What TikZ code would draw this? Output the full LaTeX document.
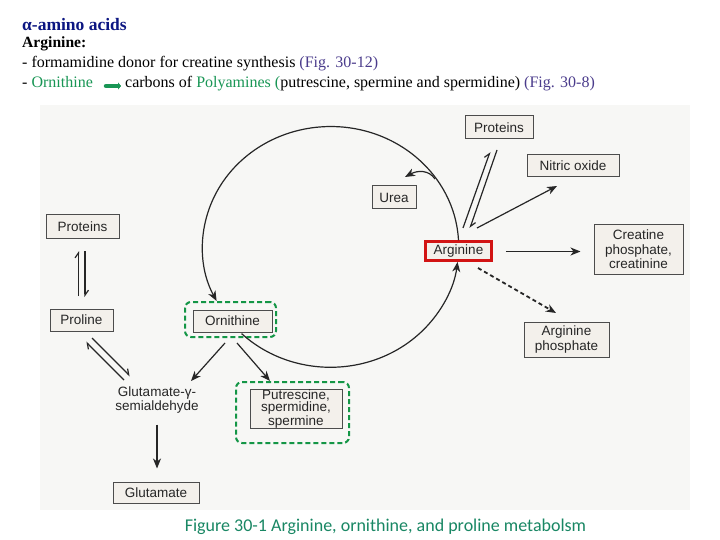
\documentclass[tikz,border=0pt]{standalone}
\usepackage{fontspec}
\setmainfont{Liberation Serif}
\setsansfont{Liberation Sans}
\newfontfamily\capfont{Carlito}
\usetikzlibrary{arrows.meta,calc}
\definecolor{navy}{RGB}{12,22,130}
\definecolor{figblue}{RGB}{75,60,140}
\definecolor{grn}{RGB}{25,150,85}
\definecolor{capgrn}{RGB}{25,135,100}
\definecolor{boxfill}{RGB}{243,240,235}
\definecolor{bg}{RGB}{247,247,245}
\definecolor{redb}{RGB}{210,20,20}
\definecolor{dashg}{RGB}{20,150,70}
\begin{document}
\begin{tikzpicture}[x=1pt,y=-1pt,
  box/.style={draw=black!70, fill=boxfill, line width=1pt,
    font=\sffamily\fontsize{13.5}{14.5}\selectfont, text=black!85,
    inner sep=0pt, align=center},
  hl/.style={draw=dashg, line width=2pt, dash pattern=on 5pt off 3pt,
    rounded corners=6pt, inner sep=0pt},
  arr/.style={line width=1.2pt, draw=black!85,
    -{Stealth[length=10pt,width=8pt,inset=3pt]}},
  harp/.style={line width=1.2pt, draw=black!85,
    -{Straight Barb[harpoon,length=5pt,width=7pt]}},
  hdr/.style={anchor=base west, inner sep=0pt, font=\fontsize{16}{18}\selectfont}
]
\useasboundingbox (0,0) rectangle (720,540);
\fill[white] (0,0) rectangle (720,540);
\fill[bg] (40,105) rectangle (690,510);

% header
\node[hdr, font=\bfseries\fontsize{17.5}{20}\selectfont, text=navy] (t1) at (22,30.5) {α-amino acids};
\node[hdr, font=\bfseries\fontsize{15.6}{18}\selectfont] (t2) at (22,48) {Arginine:};
\node[hdr] (t3) at (22,68) {- formamidine donor for creatine synthesis \textcolor{figblue}{(Fig. 30-12)}};
\node[hdr] (t4a) at (22,88) {- \textcolor{grn}{Ornithine}};
\coordinate (ga) at (106,86);
\coordinate (gb) at (121,86);
\draw[grn, line width=4.5pt, line cap=round, -{Triangle[length=3pt,width=7pt]}] (ga) -- (gb);
\node[hdr] (t4b) at (125,88) {carbons of \textcolor{grn}{Polyamines (}putrescine, spermine and spermidine) \textcolor{figblue}{(Fig. 30-8)}};

% boxes
\node[box, minimum width=68, minimum height=23] (protR) at (499,127.5) {Proteins};
\node[box, minimum width=92, minimum height=22] (no) at (573,166) {Nitric oxide};
\node[box, minimum width=44, minimum height=23] (urea) at (394,197.5) {Urea};
\node[box, draw=redb, line width=2.5pt, minimum width=66, minimum height=19] (arg) at (458.5,251) {Arginine};
\node[box, minimum width=89, minimum height=49] (crea) at (638.5,249.5) {Creatine\\phosphate,\\creatinine};
\node[box, minimum width=85, minimum height=35] (argp) at (566.5,339.5) {Arginine\\phosphate};
\node[box, minimum width=73, minimum height=23] (protL) at (82.5,226.5) {Proteins};
\node[box, minimum width=63, minimum height=22] (pro) at (81.5,320) {Proline};
\node[box, minimum width=79, minimum height=22] (orn) at (232.5,321) {Ornithine};
\node[hl, minimum width=91, minimum height=35] (ornd) at (230.5,319.5) {};
\node[font=\sffamily\fontsize{13.5}{14.5}\selectfont, text=black!85, align=center, inner sep=0pt] (gsa) at (157,400) {Glutamate-γ-\\semialdehyde};
\node[box, font=\sffamily\fontsize{13.5}{12.3}\selectfont, minimum width=92, minimum height=39] (put) at (296,409) {Putrescine,\\spermidine,\\spermine};
\node[hl, minimum width=113, minimum height=61] (putd) at (292.5,412.5) {};
\node[box, minimum width=86, minimum height=21] (glu) at (156,492.5) {Glutamate};

% urea cycle
\draw[arr] (arg.north) arc[start angle=-3, end angle=-207, x radius=128, y radius=120];
\coordinate (arcB) at (241.6,333.6);
\draw[arr] (arcB) arc[start angle=134, end angle=7, x radius=128, y radius=120];
\coordinate (ub) at (435,179);
\coordinate (ut) at (405,177);
\draw[arr] (ub) .. controls (429,170) and (418,170) .. (ut);

% arginine connections
\coordinate (pa1) at (463,228); \coordinate (pa2) at (490,152);
\coordinate (pb1) at (497,150); \coordinate (pb2) at (470,228);
\draw[harp] (pa1) -- (pa2);
\draw[harp] (pb1) -- (pb2);
\coordinate (n1) at (477,228); \coordinate (n2) at (557,186);
\draw[arr] (n1) -- (n2);
\draw[arr] ($(arg.east)+(13,0.5)$) -- ($(crea.west)+(-13,2)$);
\coordinate (d1) at (478,268); \coordinate (d2) at (556,313);
\draw[arr, line width=1.8pt, dash pattern=on 4pt off 3pt] (d1) -- (d2);

% left side
\coordinate (la1) at (78.5,296); \coordinate (la2) at (78.5,251);
\coordinate (lb1) at (85,251); \coordinate (lb2) at (85,297);
\draw[harp] (la1) -- (la2);
\draw[harp] (lb1) -- (lb2);
\coordinate (sa1) at (124,380); \coordinate (sa2) at (86,342);
\coordinate (sb1) at (92,338); \coordinate (sb2) at (130,376);
\draw[harp] (sa1) -- (sa2);
\draw[harp] (sb1) -- (sb2);
\coordinate (o1) at (225,343); \coordinate (o2) at (191,381);
\draw[arr] (o1) -- (o2);
\coordinate (o3) at (237,343); \coordinate (o4) at (270,381);
\draw[arr] (o3) -- (o4);
\draw[arr] ($(gsa.south)+(0,11)$) -- ($(glu.north)+(1,-13)$);

% caption
\node[font=\capfont\fontsize{18}{20}\selectfont, text=capgrn, anchor=base, inner sep=0pt] (cap) at (385.5,531) {Figure 30-1 Arginine, ornithine, and proline metabolsm};
\end{tikzpicture}
\end{document}
